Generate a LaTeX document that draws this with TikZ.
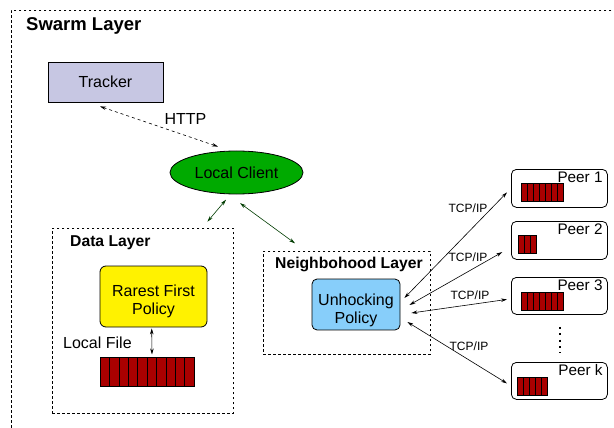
\documentclass[tikz,border=0pt]{standalone}
\usepackage{fontspec}
\setmainfont{Liberation Sans}
\usetikzlibrary{arrows.meta, shapes.geometric, positioning}

\definecolor{trackerblue}{RGB}{199,199,227}
\definecolor{clientgreen}{RGB}{0,170,0}
\definecolor{policyblue}{RGB}{135,206,250}
\definecolor{chunkred}{RGB}{170,0,0}
\definecolor{linkgreen}{RGB}{0,60,0}

\begin{document}
\begin{tikzpicture}[x=1pt, y=-1pt, >={Stealth[length=6pt, width=3.5pt]},
		layer/.style={draw, dash pattern=on 2.5pt off 2.5pt, rectangle, anchor=north west, line width=0.7pt},
		layer title/.style={anchor=base west, inner sep=0pt, font=\fontsize{15.7}{18}\selectfont\bfseries},
		box/.style={draw, line width=0.8pt, align=center, font=\fontsize{16}{18}\selectfont},
		peer/.style={draw, rounded corners=5pt, anchor=north west, line width=0.8pt, minimum width=96pt, minimum height=38pt},
		peer label/.style={anchor=base east, inner sep=0pt, font=\fontsize{15.3}{18}\selectfont},
		chunks/.style={draw, fill=chunkred, anchor=north west, line width=0.6pt, inner sep=0pt},
		link/.style={<->, line width=0.6pt},
		tcp/.style={anchor=base, inner sep=0pt, font=\fontsize{12}{14}\selectfont}]

		\useasboundingbox (0, 0) rectangle (614, 428);
		\clip (0, 0) rectangle (614, 428);

		%% Layers
		\begin{scope}
			\node (swarm) at (11, 10) [layer, minimum width=640pt, minimum height=440pt] {};
			\node (swarm_title) at (26, 31) [layer title, font=\fontsize{18.5}{20}\selectfont\bfseries] {Swarm Layer};

			\node (data) at (52, 228) [layer, minimum width=181pt, minimum height=185pt] {};
			\node (data_title) at (70, 246) [layer title] {Data Layer};

			\node (neighbor) at (263, 251) [layer, minimum width=167pt, minimum height=103pt] {};
			\node (neighbor_title) at (275, 268) [layer title] {Neighbohood Layer};
		\end{scope}

		% Swarm
		\begin{scope}
			\node (tracker) at (105.5, 82) [box, fill=trackerblue, minimum width=115pt, minimum height=40pt] {Tracker};
			\node (http) at (185.5, 124.3) [anchor=base, inner sep=0pt, font=\fontsize{16}{18}\selectfont] {HTTP};
			\node (client) at (236.5, 172.5) [box, ellipse, fill=clientgreen, inner sep=0pt, minimum width=133pt, minimum height=43pt] {Local Client};
		\end{scope}

		% Data Layer
		\begin{scope}
			\node (rarest) at (153.5, 296.5) [box, rounded corners=6pt, fill=yellow, minimum width=107pt, minimum height=61pt] {\rule{0pt}{21pt}Rarest First\\Policy};
			\node (local_file) at (63, 348) [anchor=base west, inner sep=0pt, font=\fontsize{16}{18}\selectfont] {Local File};
			\node (file) at (100, 357) [chunks, minimum width=94pt, minimum height=29pt] {};
			\foreach \i in {1,...,9}
				\draw[line width=0.6pt] ([xshift=\i*9.4pt]file.north west) -- ([xshift=\i*9.4pt]file.south west);
		\end{scope}

		% Neighbohood Layer
		\begin{scope}
			\node (unchoking) at (356, 304.5) [box, rounded corners=5pt, fill=policyblue, minimum width=88pt, minimum height=47pt] {\rule{0pt}{23pt}Unhocking\\Policy};
		\end{scope}

		% Peers
		\begin{scope}
			\node (peer1) at (511, 169) [peer] {};
			\node (peer2) at (511, 221) [peer] {};
			\node (peer3) at (511, 277) [peer, minimum height=37pt] {};
			\node (peerk) at (511, 362) [peer, minimum height=37pt] {};

			\foreach \p/\t in {peer1/1, peer2/2, peer3/3, peerk/k}
				\node (\p_label) at ([xshift=-5pt, yshift=-13.5pt]\p.north east) [peer label] {Peer \t};

			\foreach \p/\n/\dx/\dy in {peer1/7/10/14, peer2/3/7/14, peer3/7/10/15, peerk/5/6/15} {
				\node (\p_chunks) at ([xshift=\dx pt, yshift=-\dy pt]\p.north west) [chunks, minimum width=\n*6pt, minimum height=18pt] {};
				\foreach \i in {1,...,\n}
					\draw[line width=0.6pt] ([xshift=\i*6pt]\p_chunks.north west) -- ([xshift=\i*6pt]\p_chunks.south west);
			}

			\draw[line width=2pt, dash pattern=on 2pt off 4.4pt, shorten <=12pt, shorten >=9pt] ([xshift=1pt]peer3.south) -- ([xshift=1pt]peerk.north);
		\end{scope}

		% TCP labels
		\begin{scope}
			\node (tcp1) at (468, 212.5) [tcp] {TCP/IP};
			\node (tcp2) at (468, 261) [tcp] {TCP/IP};
			\node (tcp3) at (470, 299) [tcp] {TCP/IP};
			\node (tcp4) at (469, 350) [tcp] {TCP/IP};
		\end{scope}

		%% Edges
		\draw[link, dash pattern=on 3pt off 3pt] ([xshift=-5.5pt, yshift=-4pt]tracker.south) -- ([xshift=-18.5pt, yshift=4pt]client.north);

		\draw[link, linkgreen] ([xshift=-10.5pt, yshift=-5.3pt]client.south) -- ([xshift=-26.3pt, yshift=6.3pt]data.north east);
		\draw[link, linkgreen] ([xshift=3.5pt, yshift=-8.7pt]client.south) -- ([xshift=32pt, yshift=7.7pt]neighbor.north west);

		\draw[link, shorten <=1pt, shorten >=2.5pt] ([xshift=-1.8pt]rarest.south) -- ([xshift=4.7pt]file.north);

		\draw[link] ([xshift=4pt, yshift=6.5pt]unchoking.east) -- ([xshift=-4pt, yshift=-4pt]peer1.west);
		\draw[link] ([xshift=9pt, yshift=-0.5pt]unchoking.east) -- ([xshift=-8.7pt, yshift=-11.7pt]peer2.west);
		\draw[link] ([xshift=11pt, yshift=-8.5pt]unchoking.east) -- ([xshift=-4pt, yshift=-3.5pt]peer3.west);
		\draw[link] ([xshift=7pt, yshift=-17.5pt]unchoking.east) -- ([xshift=-4pt, yshift=-2.5pt]peerk.west);
	\end{tikzpicture}
\end{document}
